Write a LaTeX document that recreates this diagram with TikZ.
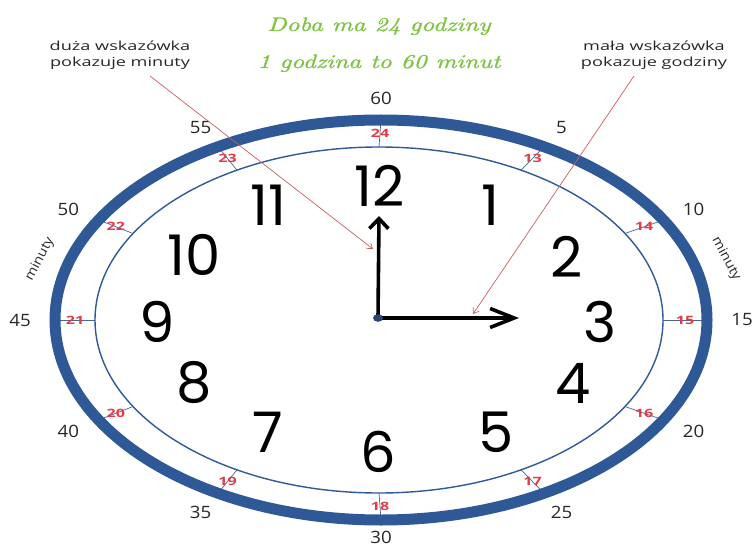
\documentclass[tikz,border=0pt]{standalone}
\usepackage{fontspec}
\usetikzlibrary{arrows.meta}
\newfontfamily\bigf{Poppins}
\newfontfamily\minf{Open Sans}[FakeStretch=1.1]
\newfontfamily\hourf{Open Sans}[FakeStretch=1.4]
\newfontfamily\labf{Open Sans}[FakeStretch=1.45]
\newfontfamily\titlef{lmroman10-italic}[Extension=.otf, FakeStretch=1.3, FakeBold=1.2]
\definecolor{ringblue}{RGB}{46,88,150}
\definecolor{tickblue}{RGB}{70,100,150}
\definecolor{hourred}{RGB}{225,60,70}
\definecolor{titlegreen}{RGB}{125,195,65}
\definecolor{pointer}{RGB}{200,95,95}
\definecolor{dotblue}{RGB}{40,70,115}
\tikzset{
  ringline/.style={draw=ringblue, line width=11pt},
  innerline/.style={draw=ringblue, line width=1.4pt},
  tickline/.style={draw=tickblue, line width=0.7pt},
  hourlab/.style={text=hourred, font=\hourf\bfseries\fontsize{11.5}{12}\selectfont, inner sep=0pt},
  minlab/.style={text=black!85, font=\minf\fontsize{17}{18}\selectfont, inner sep=0pt},
  bignum/.style={text=black, font=\bigf\fontsize{56}{60}\selectfont, inner sep=0pt},
  sidelab/.style={text=black!85, font=\minf\fontsize{13}{14}\selectfont, inner sep=0pt},
  infolab/.style={text=black!85, font=\labf\fontsize{12.5}{16}\selectfont, align=center, inner sep=0pt},
  titlelab/.style={text=titlegreen, font=\titlef\fontsize{19.5}{22}\selectfont, inner sep=0pt},
  hand/.style={draw=black, line width=3.6pt},
  pointerline/.style={draw=pointer, line width=0.7pt, -{Straight Barb[length=5pt,width=7pt,line width=0.7pt]}}
}
\begin{document}
\begin{tikzpicture}[x=1pt,y=-1pt]
\useasboundingbox (0,0) rectangle (752,548);
% ticks with hour labels 13..24
\foreach \h in {1,...,12}{
  \pgfmathsetmacro\a{90-30*\h}
  \pgfmathtruncatemacro\lab{\h+12}
  \coordinate (ti\h) at ({379+284*cos(\a)},{320-173*sin(\a)});
  \coordinate (to\h) at ({381+326*cos(\a)},{320-200*sin(\a)});
  \draw[tickline] (ti\h) -- (to\h);
  \node[hourlab] (hl\lab) at ({380+305*cos(\a)},{320-186.5*sin(\a)}) {\lab};
}
% rings
\draw[ringline] (381,320) ellipse [x radius=326pt, y radius=200pt];
\draw[innerline] (379,320) ellipse [x radius=284pt, y radius=173pt];
% minute labels
\foreach \m in {0,...,11}{
  \pgfmathsetmacro\a{90-30*\m}
  \pgfmathtruncatemacro\mv{\m==0 ? 60 : 5*\m}
  \pgfmathsetmacro\ry{\m==6 ? 217 : 222}
  \node[minlab] (ml\mv) at ({381+361*cos(\a)},{320-\ry*sin(\a)}) {\mv};
}
% big numbers
\node[bignum] (n12) at (380,186) {12};
\node[bignum] (n1) at (490,205) {1};
\node[bignum] (n2) at (567,257) {2};
\node[bignum] (n3) at (600,322) {3};
\node[bignum] (n4) at (573,383) {4};
\node[bignum] (n5) at (496,432) {5};
\node[bignum] (n6) at (378,452) {6};
\node[bignum] (n7) at (268,432) {7};
\node[bignum] (n8) at (194,383) {8};
\node[bignum] (n9) at (157,322) {9};
\node[bignum] (n10) at (194,255) {10};
\node[bignum] (n11) at (268,205) {11};
% side labels
\node[sidelab, rotate=62] (minL) at (40,259) {minuty};
\node[sidelab, rotate=-62] (minR) at (726,259) {minuty};
% title
\node[titlelab, anchor=base] (t1) at (379,31) {Doba ma 24 godziny};
\node[titlelab, anchor=base] (t2) at (379,68) {1 godzina to 60 minut};
% info labels
\node[infolab, anchor=north] (infoL) at (120,41) {duża wskazówka\\pokazuje minuty};
\node[infolab, anchor=north] (infoR) at (654,41) {mała wskazówka\\pokazuje godziny};
% hands
\coordinate (ctr) at (378,318);
\coordinate (tipV) at (379,216);
\coordinate (tipH) at (519,318);
\draw[hand, -{Straight Barb[length=10pt,width=19pt,line width=3.6pt]}] (ctr) -- (tipV);
\draw[hand, -{Straight Barb[length=24pt,width=19pt,line width=3.6pt]}] (ctr) -- (tipH);
\fill[dotblue] (ctr) ellipse [x radius=5pt, y radius=3.8pt];
% pointers
\coordinate (pLs) at (150,76);
\coordinate (pLe) at (373,249);
\coordinate (pRs) at (634,76);
\coordinate (pRe) at (473,314);
\draw[pointerline] (pLs) -- (pLe);
\draw[pointerline] (pRs) -- (pRe);
\end{tikzpicture}
\end{document}
